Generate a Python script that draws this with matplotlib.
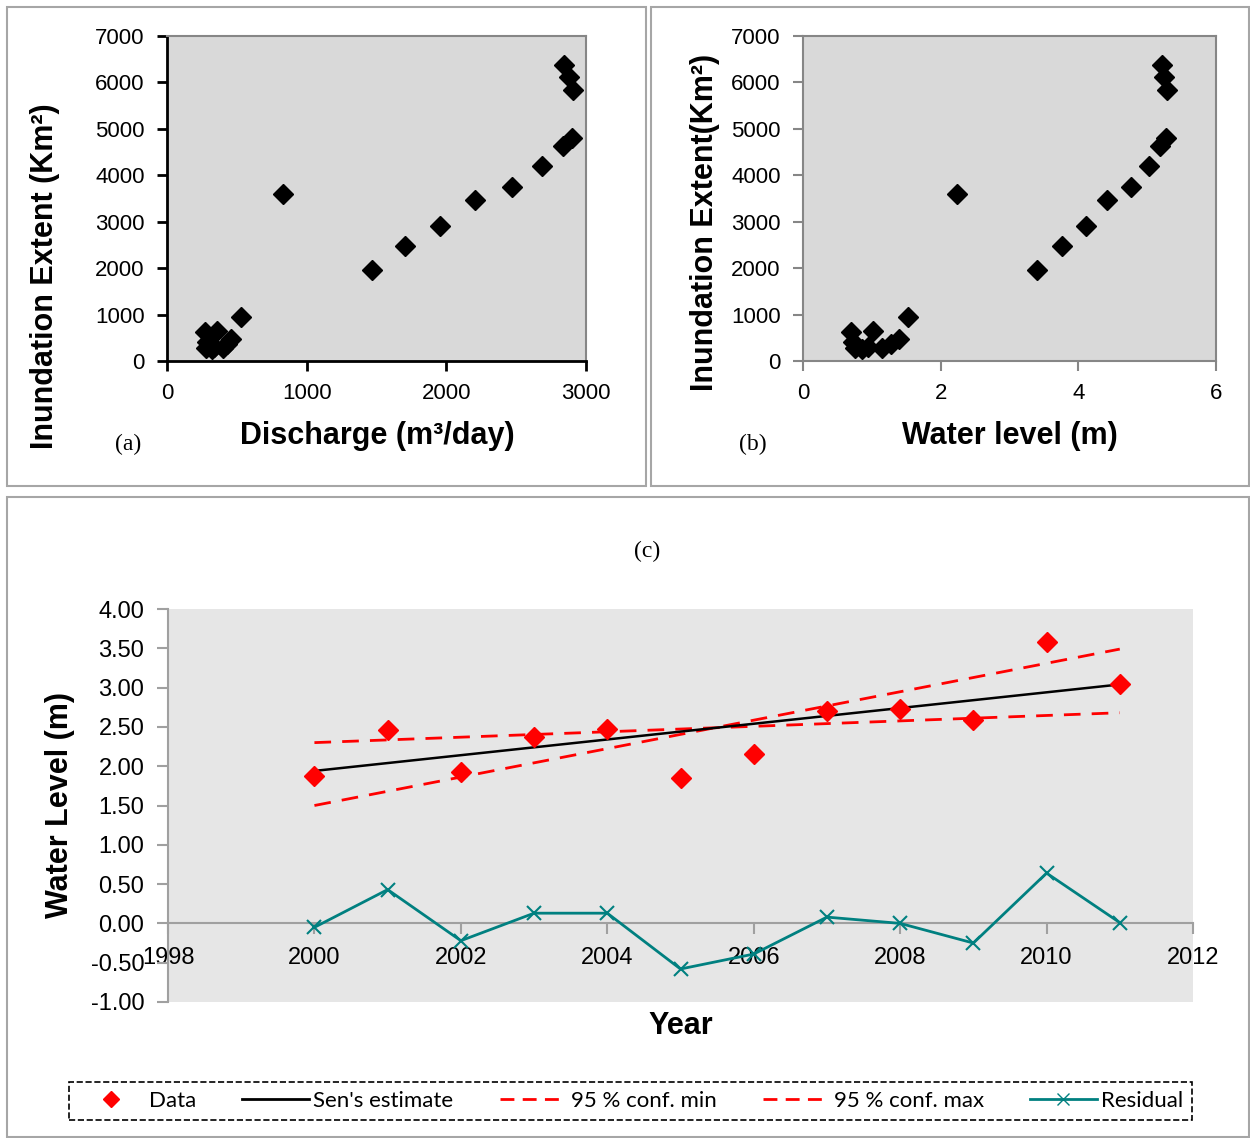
import matplotlib
matplotlib.use('Agg')
import matplotlib.pyplot as plt
from matplotlib.patches import Rectangle
from matplotlib.lines import Line2D

# panel (a)/(b) data: discharge, water level, inundation extent
discharge = [270, 285, 280, 320, 360, 335, 400, 430, 460, 530, 830, 1470, 1705,
             1955, 2205, 2470, 2685, 2835, 2900, 2840, 2875, 2905]
water_level = [0.70, 0.72, 0.75, 0.85, 1.02, 0.95, 1.15, 1.28, 1.40, 1.53, 2.24, 3.40, 3.76,
               4.11, 4.42, 4.77, 5.03, 5.19, 5.28, 5.22, 5.25, 5.29]
inundation = [620, 420, 280, 250, 650, 300, 290, 360, 470, 950, 3600, 1960, 2480,
              2910, 3470, 3750, 4200, 4630, 4810, 6380, 6120, 5840]

# panel (c) data
years = [2000, 2001, 2002, 2003, 2004, 2005, 2006, 2007, 2008, 2009, 2010, 2011]
level = [1.88, 2.46, 1.93, 2.37, 2.47, 1.85, 2.15, 2.70, 2.73, 2.59, 3.58, 3.05]
residual = [-0.05, 0.43, -0.22, 0.13, 0.13, -0.58, -0.39, 0.08, 0.00, -0.25, 0.64, 0.01]
line_years = [2000, 2011]
sen = [1.94, 3.04]
conf_min = [2.30, 2.68]
conf_max = [1.50, 3.49]

W, H = 1250, 1138
fig = plt.figure(figsize=(W / 100, H / 100), dpi=100)

SANS = 'Liberation Sans'
SERIF = 'Liberation Serif'


def px(l, t, r, b):
    return [l / W, 1 - b / H, (r - l) / W, (b - t) / H]


def ftext(x, y, s, **kw):
    fig.text(x / W, 1 - y / H, s, ha='center', va='center', **kw)


# panel frames
for l, t, r, b in [(7, 7, 646, 486), (651, 7, 1249, 486), (7, 497, 1249, 1137)]:
    fig.patches.append(Rectangle((l / W, 1 - b / H), (r - l) / W, (b - t) / H,
                                 transform=fig.transFigure, fill=False,
                                 edgecolor='#a6a6a6', linewidth=1.5))


def scatter_panel(rect, xdata, xlim, xticks, strong):
    ax = fig.add_axes(px(*rect))
    ax.set_facecolor('#d9d9d9')
    ax.plot(xdata, inundation, 'D', color='black', markersize=10, linestyle='none')
    ax.set_xlim(*xlim)
    ax.set_ylim(0, 7000)
    ax.set_xticks(xticks)
    ax.set_yticks(range(0, 7001, 1000))
    col = 'black' if strong else '#868686'
    lw = 2 if strong else 1.5
    for s in ['left', 'bottom']:
        ax.spines[s].set_color(col)
        ax.spines[s].set_linewidth(lw)
    for s in ['top', 'right']:
        ax.spines[s].set_color('#868686')
        ax.spines[s].set_linewidth(1.5)
    ax.tick_params(direction='out', length=7, width=lw, color=col, pad=9,
                   labelsize=16)
    for lab in ax.get_xticklabels() + ax.get_yticklabels():
        lab.set_fontfamily(SANS)
    return ax


scatter_panel((167, 36, 586, 361), discharge, (0, 3000), [0, 1000, 2000, 3000], True)
scatter_panel((803, 36, 1216, 361), water_level, (0, 6), [0, 2, 4, 6], False)

ftext(45, 276, 'Inundation Extent (Km²)', rotation=90,
      fontsize=22, fontweight='bold', family=SANS)
ftext(377, 436, 'Discharge (m³/day)', fontsize=22,
      fontweight='bold', family=SANS)
ftext(128, 444, '(a)', fontsize=17, family=SERIF)
ftext(705, 222, 'Inundation Extent(Km²)', rotation=90,
      fontsize=22, fontweight='bold', family=SANS)
ftext(1010, 436, 'Water level (m)', fontsize=22, fontweight='bold', family=SANS)
ftext(753, 444, '(b)', fontsize=17, family=SERIF)

# panel (c)
ax = fig.add_axes(px(168, 609, 1193, 1002))
ax.set_facecolor('#e6e6e6')
teal = '#008080'
ax.plot(years, residual, color=teal, linewidth=2, marker='x', markersize=10,
        markeredgewidth=1.5, label='Residual', zorder=3)
ax.plot(line_years, conf_min, color='red', linewidth=2, dashes=(6, 4),
        label='95 % conf. min', zorder=2)
ax.plot(line_years, conf_max, color='red', linewidth=2, dashes=(6, 4),
        label='95 % conf. max', zorder=2)
ax.plot(line_years, sen, color='black', linewidth=1.8, label="Sen's estimate", zorder=2)
ax.plot(years, level, 'D', color='red', markersize=10, linestyle='none',
        label='Data', zorder=4)
ax.set_xlim(1998, 2012)
ax.set_ylim(-1.0, 4.0)
ax.set_xticks(range(1998, 2013, 2))
ax.set_yticks([-1.0 + 0.5 * i for i in range(11)])
ax.yaxis.set_major_formatter(matplotlib.ticker.FormatStrFormatter('%.2f'))
ax.spines['top'].set_visible(False)
ax.spines['right'].set_visible(False)
ax.spines['bottom'].set_position(('data', 0))
for s in ['left', 'bottom']:
    ax.spines[s].set_color('#a0a0a0')
    ax.spines[s].set_linewidth(1.5)
ax.tick_params(direction='out', length=8, width=1.5, color='#a0a0a0', pad=9,
               labelsize=17)
for lab in ax.get_xticklabels() + ax.get_yticklabels():
    lab.set_fontfamily(SANS)

ftext(647, 551, '(c)', fontsize=17, family=SERIF)
ftext(681, 1026, 'Year', fontsize=22, fontweight='bold', family=SANS)
ftext(60, 805, 'Water Level (m)', rotation=90, fontsize=22, fontweight='bold',
      family=SANS)

handles = [
    Line2D([], [], marker='D', color='red', linestyle='none', markersize=8),
    Line2D([], [], color='black', linewidth=2),
    Line2D([], [], color='red', linewidth=2, dashes=(5, 3)),
    Line2D([], [], color='red', linewidth=2, dashes=(5, 3)),
    Line2D([], [], color=teal, linewidth=2, marker='x', markersize=9),
]
labels = ['Data', "Sen's estimate", '95 % conf. min', '95 % conf. max', 'Residual']
leg = fig.legend(handles, labels, loc='center', ncol=5,
                 bbox_to_anchor=(69 / W, 1 - 1125 / H, (1192 - 69) / W, 48 / H),
                 mode='expand', fancybox=False, framealpha=1, edgecolor='black',
                 handlelength=3.0, handletextpad=0.2, columnspacing=1.0,
                 prop={'family': 'Lato', 'size': 16}, borderaxespad=0)
leg.get_frame().set_linestyle('--')
leg.get_frame().set_linewidth(1.2)

fig.savefig('out.png', dpi=100)
